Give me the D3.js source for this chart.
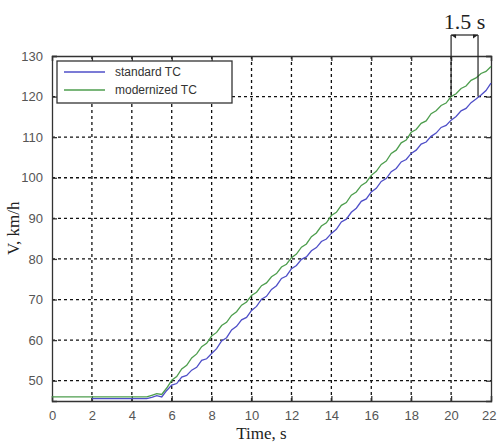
<!DOCTYPE html>
<html>
<head>
<meta charset="utf-8">
<script src="https://cdn.jsdelivr.net/npm/d3@7"></script>
<style>
  body { margin: 0; background: #fff; }
  .tick text { font-family: Arial, "Liberation Sans", sans-serif; font-size: 13px; fill: #555; }
</style>
</head>
<body>
<script>
// data
var timeTicks = [0, 2, 4, 6, 8, 10, 12, 14, 16, 18, 20, 22];
var speedTicks = [50, 60, 70, 80, 90, 100, 110, 120, 130];

var greenTime = [0, 4.75, 5, 5.25, 5.5, 5.75, 6, 6.25, 6.5, 6.75, 7, 7.25, 7.5, 7.75, 8, 8.25, 8.5, 8.75, 9, 9.25, 9.5, 9.75, 10,
  10.25, 10.5, 10.75, 11, 11.25, 11.5, 11.75, 12, 12.25, 12.5, 12.75, 13, 13.25, 13.5, 13.75, 14, 14.25, 14.5, 14.75, 15,
  15.25, 15.5, 15.75, 16, 16.25, 16.5, 16.75, 17, 17.25, 17.5, 17.75, 18, 18.25, 18.5, 18.75, 19, 19.25, 19.5, 19.75, 20,
  20.25, 20.5, 20.75, 21, 21.25, 21.5, 21.75, 22];
var greenSpeed = [46.0, 46.0, 46.4, 46.8, 46.6, 48.2, 50.1, 51.0, 52.9, 53.8, 55.6, 56.6, 58.4, 59.2, 61.0, 61.9, 63.6, 64.4, 66.1, 67.0, 68.6, 69.4, 71.0,
  71.8, 73.4, 74.1, 75.6, 76.4, 78.0, 78.7, 80.3, 81.2, 82.9, 83.7, 85.5, 86.4, 88.1, 88.9, 90.7, 91.5, 93.2, 93.9, 95.7,
  96.5, 98.1, 98.9, 100.6, 101.6, 103.3, 104.1, 106.0, 106.8, 108.6, 109.3, 111.2, 111.9, 113.4, 114.0, 115.8, 116.5, 117.8, 118.4, 120.0,
  120.7, 122.0, 122.6, 124.0, 124.6, 125.7, 126.2, 127.4];

var blueTime = [2, 4.75, 5, 5.25, 5.5, 5.75, 6, 6.25, 6.5, 6.75, 7, 7.25, 7.5, 7.75, 8, 8.25, 8.5, 8.75, 9, 9.25, 9.5, 9.75, 10,
  10.25, 10.5, 10.75, 11, 11.25, 11.5, 11.75, 12, 12.25, 12.5, 12.75, 13, 13.25, 13.5, 13.75, 14, 14.25, 14.5, 14.75, 15,
  15.25, 15.5, 15.75, 16, 16.25, 16.5, 16.75, 17, 17.25, 17.5, 17.75, 18, 18.25, 18.5, 18.75, 19, 19.25, 19.5, 19.75, 20,
  20.25, 20.5, 20.75, 21, 21.25, 21.5, 21.75, 22];
var blueSpeed = [45.6, 45.6, 45.9, 46.3, 46.0, 47.6, 48.9, 49.3, 50.9, 51.3, 52.6, 53.3, 55.0, 55.4, 56.7, 57.9, 59.8, 60.6, 62.5, 63.4, 65.0, 65.6, 67.3,
  68.3, 70.1, 70.8, 72.5, 73.4, 75.2, 75.8, 77.6, 78.4, 79.9, 80.5, 82.0, 82.8, 84.3, 84.9, 86.3, 87.3, 89.1, 89.8, 91.5,
  92.5, 94.2, 94.8, 96.5, 97.4, 99.1, 99.8, 101.5, 102.3, 103.9, 104.5, 106.0, 106.8, 108.3, 108.8, 110.2, 111.0, 112.4, 112.9, 114.2,
  115.1, 116.5, 117.1, 118.5, 119.4, 120.4, 121.5, 123.3];

var seriesNames = ["standard TC", "modernized TC"];
var seriesColors = ["#4f4fc8", "#4e9e4e"];

// bracket: time at which each curve reaches 120 km/h
var bracketTimes = [20, 21.35];
var bracketSpeed = 120;
var bracketLabel = "1.5 s";

var margin = { top: 56, right: 6, bottom: 42, left: 52 },
    width = 497 - margin.left - margin.right,
    height = 443 - margin.top - margin.bottom;

var x = d3.scaleLinear().domain([0, 22]).range([0, width]);
var y = d3.scaleLinear().domain([45, 130]).range([height, 0]);

var svg = d3.select("body").append("svg")
    .attr("width", 497)
    .attr("height", 443)
  .append("g")
    .attr("transform", "translate(" + margin.left + "," + margin.top + ")");

// grid
svg.selectAll(".vgrid")
    .data(timeTicks.slice(1, -1))
    .enter().append("line")
    .attr("x1", function (d) { return x(d); })
    .attr("x2", function (d) { return x(d); })
    .attr("y1", 0).attr("y2", height)
    .attr("stroke", "#111").attr("stroke-width", 1.3)
    .attr("stroke-dasharray", "3,3");

svg.selectAll(".hgrid")
    .data(speedTicks.slice(0, -1))
    .enter().append("line")
    .attr("y1", function (d) { return y(d); })
    .attr("y2", function (d) { return y(d); })
    .attr("x1", 0).attr("x2", width)
    .attr("stroke", "#111").attr("stroke-width", 1.3)
    .attr("stroke-dasharray", "3,3");

// axes
var xAxis = svg.append("g")
    .attr("transform", "translate(0," + height + ")")
    .call(d3.axisBottom(x).tickValues(timeTicks).tickSize(-5).tickPadding(10));
// last label sits on the right edge
xAxis.selectAll(".tick text")
    .filter(function (d) { return d === 22; })
    .attr("text-anchor", "end")
    .attr("dx", 5);
var yAxis = svg.append("g")
    .call(d3.axisLeft(y).tickValues(speedTicks).tickSize(-5).tickPadding(9));
svg.append("g")
    .call(d3.axisTop(x).tickValues(timeTicks).tickSize(-5).tickFormat(""));
svg.append("g")
    .attr("transform", "translate(" + width + ",0)")
    .call(d3.axisRight(y).tickValues(speedTicks).tickSize(-5).tickFormat(""));
svg.selectAll(".domain").attr("stroke", "#333").attr("stroke-width", 1.3);
svg.selectAll(".tick line").attr("stroke", "#333").attr("stroke-width", 1.3);

// lines
var line = d3.line()
    .x(function (d) { return x(d[0]); })
    .y(function (d) { return y(d[1]); });

svg.append("path")
    .datum(d3.zip(greenTime, greenSpeed))
    .attr("fill", "none")
    .attr("stroke", seriesColors[1])
    .attr("stroke-width", 1.3)
    .attr("d", line);

svg.append("path")
    .datum(d3.zip(blueTime, blueSpeed))
    .attr("fill", "none")
    .attr("stroke", seriesColors[0])
    .attr("stroke-width", 1.3)
    .attr("d", line);

// legend
var legend = svg.append("g").attr("transform", "translate(5,5)");
legend.append("rect")
    .attr("width", 175).attr("height", 42)
    .attr("fill", "#fff").attr("stroke", "#333").attr("stroke-width", 1.3);
seriesNames.forEach(function (name, i) {
    legend.append("line")
        .attr("x1", 7).attr("x2", 48)
        .attr("y1", 11 + i * 18).attr("y2", 11 + i * 18)
        .attr("stroke", seriesColors[i]).attr("stroke-width", 1.5);
    legend.append("text")
        .attr("x", 58).attr("y", 15 + i * 18)
        .attr("font-family", "Arial, 'Liberation Sans', sans-serif")
        .attr("font-size", 12)
        .attr("fill", "#333")
        .text(name);
});

// 1.5 s bracket
var bTop = -21;
bracketTimes.forEach(function (t) {
    svg.append("line")
        .attr("x1", x(t)).attr("x2", x(t))
        .attr("y1", bTop).attr("y2", y(bracketSpeed))
        .attr("stroke", "#222").attr("stroke-width", 1.2);
});
svg.append("line")
    .attr("x1", x(bracketTimes[0])).attr("x2", x(bracketTimes[1]))
    .attr("y1", bTop).attr("y2", bTop)
    .attr("stroke", "#222").attr("stroke-width", 1.2);
// small arrow heads
[[bracketTimes[0], 1], [bracketTimes[1], -1]].forEach(function (a) {
    var px = x(a[0]);
    svg.append("path")
        .attr("d", "M" + px + "," + bTop + "l" + (5 * a[1]) + ",-0.5 l0,4 z")
        .attr("fill", "#222");
});
svg.append("text")
    .attr("x", (x(bracketTimes[0]) + x(bracketTimes[1])) / 2)
    .attr("y", -27)
    .attr("text-anchor", "middle")
    .attr("font-family", "'Liberation Serif', 'DejaVu Serif', serif")
    .attr("font-size", 22)
    .attr("fill", "#222")
    .text(bracketLabel);

// axis titles
svg.append("text")
    .attr("x", width / 2 - 10)
    .attr("y", height + 38)
    .attr("text-anchor", "middle")
    .attr("font-family", "'Liberation Serif', serif")
    .attr("font-size", 17)
    .attr("fill", "#222")
    .text("Time, s");

svg.append("text")
    .attr("transform", "translate(-33," + (y(90) + 10) + ") rotate(-90)")
    .attr("text-anchor", "middle")
    .attr("font-family", "'Liberation Serif', serif")
    .attr("font-size", 17)
    .attr("fill", "#222")
    .text("V, km/h");
</script>
</body>
</html>
